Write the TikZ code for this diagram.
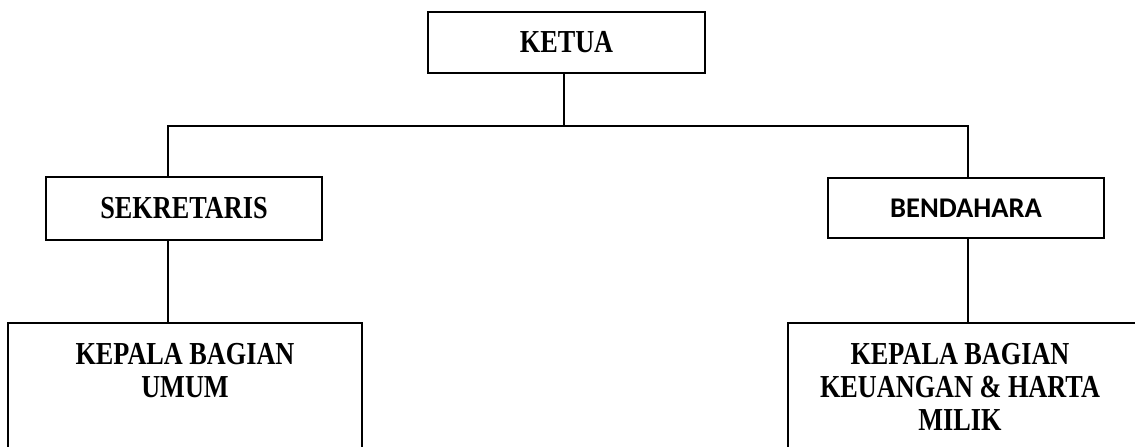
\documentclass[tikz,border=0pt]{standalone}
\usepackage{fontspec}
\newfontfamily\capfont{Liberation Serif}[FakeStretch=0.82]
\newfontfamily\calfont{Carlito}
\begin{document}
\begin{tikzpicture}[x=1pt,y=-1pt, line width=2pt,
  box/.style={draw=black, rectangle, inner sep=0pt},
  sertext/.style={font=\capfont\bfseries\fontsize{32}{33}\selectfont, inner sep=0pt, align=center},
  santext/.style={font=\calfont\bfseries\fontsize{28.5}{30}\selectfont, inner sep=0pt}]
\useasboundingbox (0,0) rectangle (1135,447);
\clip (0,0) rectangle (1135,447);
% boxes
\node[box, sertext, minimum width=277pt, minimum height=61pt] (ketua) at (566.5,42.5) {KETUA};
\node[box, sertext, minimum width=276pt, minimum height=63pt] (sekretaris) at (184,208.5) {SEKRETARIS};
\node[box, santext, minimum width=276pt, minimum height=60pt] (bendahara) at (966,208) {BENDAHARA};
\node[box, minimum width=354pt, minimum height=200pt] (umum) at (185,423) {};
\node[box, minimum width=362pt, minimum height=200pt] (keuangan) at (969,423) {};
% texts of the lower boxes
\node[sertext, anchor=north] (umumtext) at (185,342) {KEPALA BAGIAN\\UMUM};
\node[sertext, anchor=north] (keutext) at (960,342) {KEPALA BAGIAN\\KEUANGAN \& HARTA\\MILIK};
% junctions
\coordinate (jc) at (564,126);
\coordinate (jl) at (168,126);
\coordinate (jr) at (968,126);
% connectors
\draw (ketua.south -| jc) -- (jc);
\draw (sekretaris.north -| jl) -- (jl) -- (jr) -- (bendahara.north -| jr);
\draw (sekretaris.south -| jl) -- (umum.north -| jl);
\draw (bendahara.south -| jr) -- (keuangan.north -| jr);
\end{tikzpicture}
\end{document}
